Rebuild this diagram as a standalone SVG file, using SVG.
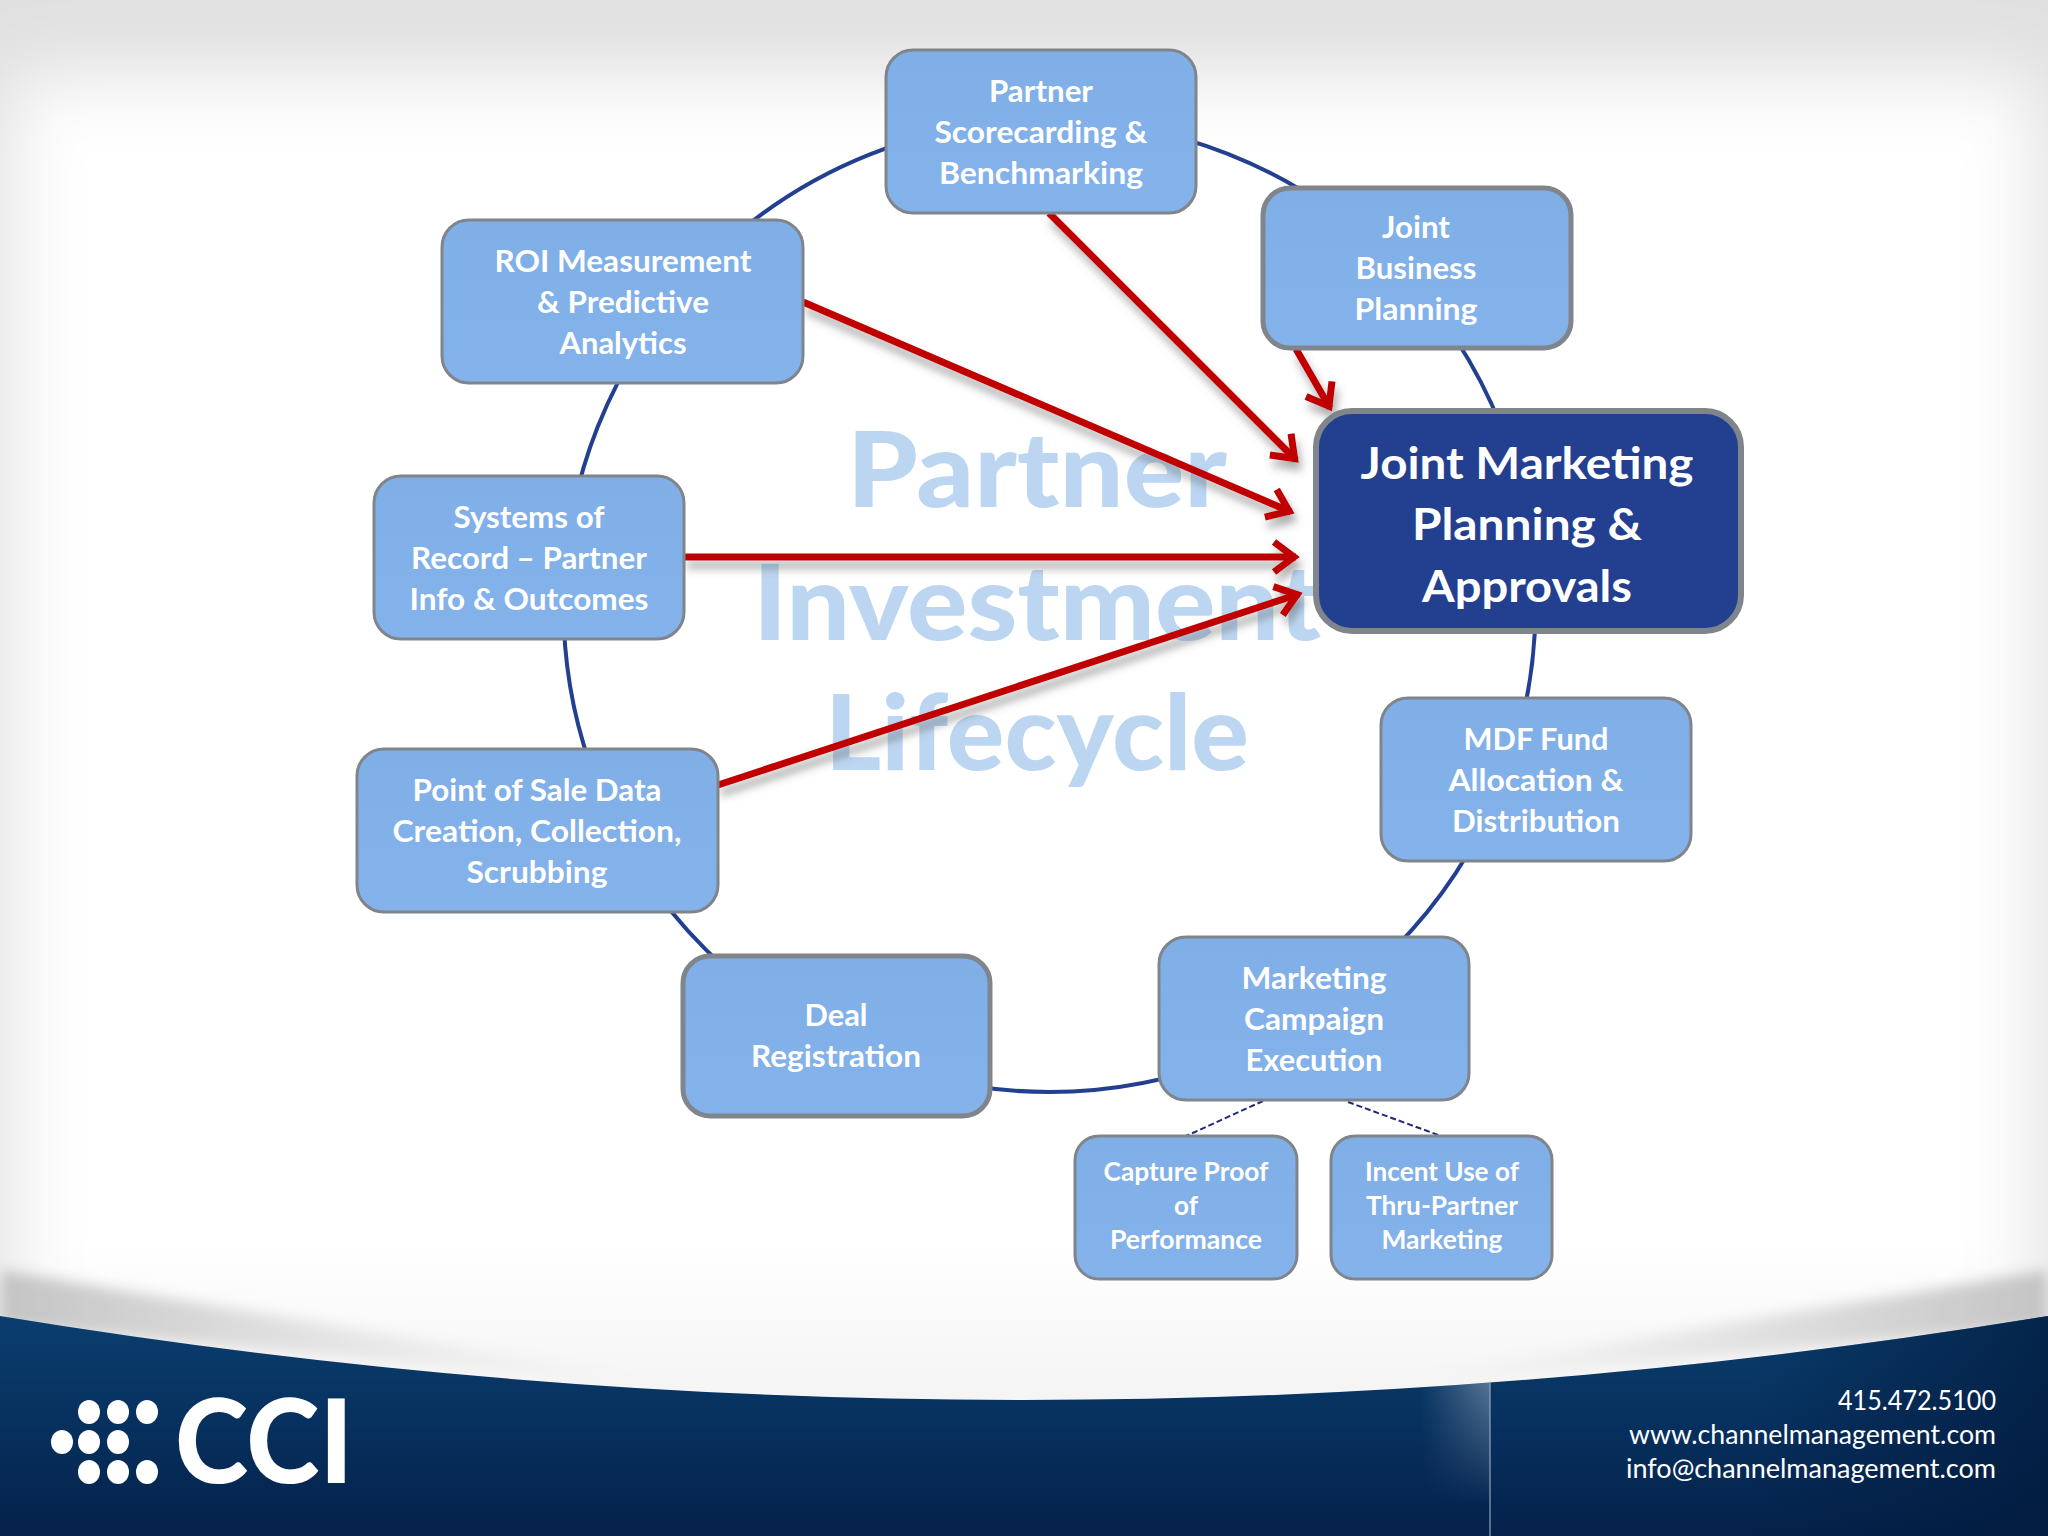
<svg xmlns="http://www.w3.org/2000/svg" width="2048" height="1536" viewBox="0 0 2048 1536">
<style>
.t{font-family:Lato,"Liberation Sans",sans-serif;font-weight:700;font-size:30px;fill:#fff;text-anchor:middle}
.s{font-size:26px}
.m{font-size:44px}
.w{font-family:Lato,"Liberation Sans",sans-serif;font-weight:900;font-size:104px;fill:#bcd6f2;text-anchor:middle}
.c{font-family:Lato,"Liberation Sans",sans-serif;font-size:27px;fill:#fff;text-anchor:end}
.n{fill:url(#nf);stroke:#80858c;stroke-width:3}
.k{stroke-width:5}
.r{stroke:#c00000;stroke-width:7;fill:none;marker-end:url(#ah)}
.d{stroke:#1f2a7c;stroke-width:2;stroke-dasharray:6 3;fill:none}
</style>
<defs>
<linearGradient id="nf" x1="0" y1="0" x2="0" y2="1"><stop offset="0" stop-color="#80aee6"/><stop offset="1" stop-color="#84b2ea"/></linearGradient>
<linearGradient id="low" x1="0" y1="0" x2="0" y2="1"><stop offset="0" stop-color="#f3f3f3" stop-opacity="0"/><stop offset="1" stop-color="#f3f3f3"/></linearGradient>
<linearGradient id="wedge" x1="0" y1="0" x2="1" y2="0"><stop offset="0" stop-color="#c4c4c4"/><stop offset=".4" stop-color="#e2e2e2"/><stop offset="1" stop-color="#f6f6f6" stop-opacity="0"/></linearGradient>
<linearGradient id="wedgeR" x1="1" y1="0" x2="0" y2="0"><stop offset="0" stop-color="#c4c4c4"/><stop offset=".4" stop-color="#e2e2e2"/><stop offset="1" stop-color="#f6f6f6" stop-opacity="0"/></linearGradient>
<linearGradient id="band" x1="0" y1="0" x2="0" y2="1"><stop offset="0" stop-color="#0a3e6e"/><stop offset=".5" stop-color="#07305e"/><stop offset="1" stop-color="#04214a"/></linearGradient>
<linearGradient id="edgeR" x1="1" y1="0" x2="0" y2="0"><stop offset="0" stop-color="#021a3c" stop-opacity=".7"/><stop offset="1" stop-color="#021a3c" stop-opacity="0"/></linearGradient>
<linearGradient id="glow" x1="0" y1="0" x2="1" y2="0"><stop offset="0" stop-color="#fff" stop-opacity="0"/><stop offset="1" stop-color="#fff" stop-opacity=".32"/></linearGradient>
<linearGradient id="glowV" x1="0" y1="0" x2="0" y2="1"><stop offset="0" stop-color="#fff"/><stop offset=".8" stop-color="#000"/></linearGradient>
<mask id="gm" maskUnits="userSpaceOnUse" x="1420" y="1380" width="72" height="156"><rect x="1420" y="1380" width="72" height="156" fill="url(#glowV)"/></mask>
<filter id="bl" x="-10%" y="-30%" width="120%" height="160%"><feGaussianBlur stdDeviation="7"/></filter>
<filter id="bg" filterUnits="userSpaceOnUse" x="-200" y="-200" width="2448" height="1936"><feGaussianBlur stdDeviation="38"/></filter>
<filter id="sh" x="-5%" y="-5%" width="110%" height="115%"><feDropShadow dx="3" dy="8" stdDeviation="4" flood-color="#555" flood-opacity=".5"/></filter>
<marker id="ah" markerUnits="userSpaceOnUse" markerWidth="44" markerHeight="44" refX="33" refY="22" orient="auto"><path d="M11 7L31 22L11 37" fill="none" stroke="#c00000" stroke-width="7"/></marker>
<clipPath id="bc"><path d="M0 1316Q1024 1484 2048 1316V1536H0Z"/></clipPath>
</defs>

<g id="background">
<rect width="2048" height="1536" fill="#e0e0e0"/>
<rect x="10" y="75" width="2028" height="1500" fill="#fff" filter="url(#bg)"/>
<rect y="1240" width="2048" height="180" fill="url(#low)"/>
<path d="M0 1270Q300 1320 760 1396L0 1325Z" fill="url(#wedge)" filter="url(#bl)"/>
<path d="M2048 1270Q1748 1320 1288 1396L2048 1325Z" fill="url(#wedgeR)" filter="url(#bl)"/>
<path d="M0 1316Q1024 1484 2048 1316V1536H0Z" fill="url(#band)"/>
<g clip-path="url(#bc)">
<rect x="1420" y="1380" width="70" height="156" fill="url(#glow)" mask="url(#gm)"/>
<rect x="1489" y="1380" width="2" height="156" fill="#8ea6bd" fill-opacity=".6"/>
<rect x="1750" y="1300" width="298" height="236" fill="url(#edgeR)"/>
</g>
</g>

<g id="logo">
<g fill="#fff">
<ellipse cx="89" cy="1412" rx="11" ry="12"/><ellipse cx="118" cy="1412" rx="11" ry="12"/><ellipse cx="147" cy="1412" rx="11" ry="12"/>
<ellipse cx="62" cy="1442" rx="11" ry="12"/><ellipse cx="89" cy="1442" rx="11" ry="12"/><ellipse cx="118" cy="1442" rx="11" ry="12"/>
<ellipse cx="89" cy="1472" rx="11" ry="12"/><ellipse cx="118" cy="1472" rx="11" ry="12"/><ellipse cx="147" cy="1472" rx="11" ry="12"/>
</g>
<text x="175" y="1483" font-family="Lato,'Liberation Sans',sans-serif" font-weight="900" font-size="116" fill="#fff" textLength="178" lengthAdjust="spacingAndGlyphs">CCI</text>
</g>

<g id="contact">
<text class="c" x="1996" y="1410" textLength="158" lengthAdjust="spacingAndGlyphs">415.472.5100</text>
<text class="c" x="1996" y="1444" textLength="367" lengthAdjust="spacingAndGlyphs">www.channelmanagement.com</text>
<text class="c" x="1996" y="1478" textLength="370" lengthAdjust="spacingAndGlyphs">info@channelmanagement.com</text>
</g>

<g id="watermark">
<text class="w" x="1037" y="507" textLength="380" lengthAdjust="spacingAndGlyphs">Partner</text>
<text class="w" x="1037" y="640" textLength="568" lengthAdjust="spacingAndGlyphs">Investment</text>
<text class="w" x="1037" y="770" textLength="424" lengthAdjust="spacingAndGlyphs">Lifecycle</text>
</g>

<g id="connectors">
<circle cx="1049.5" cy="606" r="486" fill="none" stroke="#22408f" stroke-width="4"/>
<path class="d" d="M1263 1101L1186 1136"/>
<path class="d" d="M1348 1102L1441 1136"/>
<g filter="url(#sh)">
<path class="r" d="M1049 213L1296 460"/>
<path class="r" d="M803 302L1291 512"/>
<path class="r" d="M684 557H1296"/>
<path class="r" d="M718 785L1299 594"/>
<path class="r" d="M1296 349L1330 408"/>
</g>
</g>

<g id="node-partner-scorecarding">
<rect class="n" x="886" y="50" width="310" height="163" rx="27"/>
<text class="t" x="1041" y="102" textLength="104" lengthAdjust="spacingAndGlyphs">Partner</text>
<text class="t" x="1041" y="143" textLength="213" lengthAdjust="spacingAndGlyphs">Scorecarding &amp;</text>
<text class="t" x="1041" y="184" textLength="204" lengthAdjust="spacingAndGlyphs">Benchmarking</text>
</g>
<g id="node-joint-business">
<rect class="n k" x="1263" y="188" width="308" height="160" rx="27"/>
<text class="t" x="1416" y="238" textLength="68" lengthAdjust="spacingAndGlyphs">Joint</text>
<text class="t" x="1416" y="279" textLength="121" lengthAdjust="spacingAndGlyphs">Business</text>
<text class="t" x="1416" y="320" textLength="123" lengthAdjust="spacingAndGlyphs">Planning</text>
</g>
<g id="node-roi">
<rect class="n" x="442" y="220" width="361" height="163" rx="27"/>
<text class="t" x="623" y="272" textLength="257" lengthAdjust="spacingAndGlyphs">ROI Measurement</text>
<text class="t" x="623" y="313" textLength="172" lengthAdjust="spacingAndGlyphs">&amp; Predictive</text>
<text class="t" x="623" y="354" textLength="127" lengthAdjust="spacingAndGlyphs">Analytics</text>
</g>
<g id="node-systems">
<rect class="n" x="374" y="476" width="310" height="163" rx="27"/>
<text class="t" x="529" y="528" textLength="151" lengthAdjust="spacingAndGlyphs">Systems of</text>
<text class="t" x="529" y="569" textLength="236" lengthAdjust="spacingAndGlyphs">Record – Partner</text>
<text class="t" x="529" y="610" textLength="239" lengthAdjust="spacingAndGlyphs">Info &amp; Outcomes</text>
</g>
<g id="node-point-of-sale">
<rect class="n" x="357" y="749" width="361" height="163" rx="27"/>
<text class="t" x="537" y="801" textLength="249" lengthAdjust="spacingAndGlyphs">Point of Sale Data</text>
<text class="t" x="537" y="842" textLength="289" lengthAdjust="spacingAndGlyphs">Creation, Collection,</text>
<text class="t" x="537" y="883" textLength="141" lengthAdjust="spacingAndGlyphs">Scrubbing</text>
</g>
<g id="node-deal">
<rect class="n k" x="683" y="956" width="307" height="160" rx="27"/>
<text class="t" x="836" y="1026" textLength="63" lengthAdjust="spacingAndGlyphs">Deal</text>
<text class="t" x="836" y="1067" textLength="170" lengthAdjust="spacingAndGlyphs">Registration</text>
</g>
<g id="node-marketing-campaign">
<rect class="n" x="1159" y="937" width="310" height="163" rx="27"/>
<text class="t" x="1314" y="989" textLength="145" lengthAdjust="spacingAndGlyphs">Marketing</text>
<text class="t" x="1314" y="1030" textLength="140" lengthAdjust="spacingAndGlyphs">Campaign</text>
<text class="t" x="1314" y="1071" textLength="137" lengthAdjust="spacingAndGlyphs">Execution</text>
</g>
<g id="node-mdf">
<rect class="n" x="1381" y="698" width="310" height="163" rx="27"/>
<text class="t" x="1536" y="750" textLength="145" lengthAdjust="spacingAndGlyphs">MDF Fund</text>
<text class="t" x="1536" y="791" textLength="175" lengthAdjust="spacingAndGlyphs">Allocation &amp;</text>
<text class="t" x="1536" y="832" textLength="168" lengthAdjust="spacingAndGlyphs">Distribution</text>
</g>
<g id="node-joint-marketing">
<rect x="1316" y="411" width="425" height="220" rx="36" fill="#22408f" stroke="#80858c" stroke-width="6"/>
<text class="t m" x="1527" y="479" textLength="333" lengthAdjust="spacingAndGlyphs">Joint Marketing</text>
<text class="t m" x="1527" y="540" textLength="230" lengthAdjust="spacingAndGlyphs">Planning &amp;</text>
<text class="t m" x="1527" y="602" textLength="210" lengthAdjust="spacingAndGlyphs">Approvals</text>
</g>
<g id="node-capture-proof">
<rect class="n" x="1075" y="1136" width="222" height="143" rx="24"/>
<text class="t s" x="1186" y="1181" textLength="165" lengthAdjust="spacingAndGlyphs">Capture Proof</text>
<text class="t s" x="1186" y="1215" textLength="24" lengthAdjust="spacingAndGlyphs">of</text>
<text class="t s" x="1186" y="1249" textLength="152" lengthAdjust="spacingAndGlyphs">Performance</text>
</g>
<g id="node-incent-use">
<rect class="n" x="1331" y="1136" width="221" height="143" rx="24"/>
<text class="t s" x="1442" y="1181" textLength="154" lengthAdjust="spacingAndGlyphs">Incent Use of</text>
<text class="t s" x="1442" y="1215" textLength="152" lengthAdjust="spacingAndGlyphs">Thru-Partner</text>
<text class="t s" x="1442" y="1249" textLength="121" lengthAdjust="spacingAndGlyphs">Marketing</text>
</g>
</svg>
